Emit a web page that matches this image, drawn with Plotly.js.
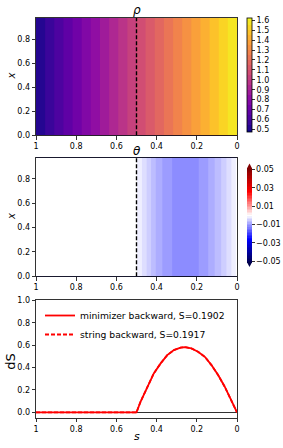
<!DOCTYPE html>
<html>
<head>
<meta charset="utf-8">
<script src="https://cdn.plot.ly/plotly-3.0.1.min.js"></script>
<style>html,body{margin:0;padding:0;background:#fff;}#chart{width:283px;height:448px;}</style>
</head>
<body>
<div id="chart"></div>
<script>
// ---- data ----
var xGrid = [0.0, 0.975];
var sRho = [1.0, 0.9, 0.8, 0.7, 0.6, 0.5, 0.4, 0.3, 0.2, 0.1, 0.0];
var rho = [0.5, 0.61, 0.72, 0.83, 0.94, 1.05, 1.16, 1.27, 1.38, 1.49, 1.6];

var sTheta = [1.0, 0.75, 0.5, 0.497, 0.473, 0.449, 0.428, 0.404, 0.371, 0.324, 0.29, 0.256, 0.22, 0.189, 0.144, 0.111, 0.078, 0.053, 0.028, 0.0065, 0.0];
var theta = [0, 0, 0, -0.0009, -0.0025, -0.0042, -0.0058, -0.0075, -0.0092, -0.0108, -0.0116, -0.0119, -0.0116, -0.0108, -0.0092, -0.0075, -0.0058, -0.0042, -0.0025, -0.0009, 0];

var sDS = [1.0, 0.5, 0.48, 0.447, 0.414, 0.38, 0.347, 0.314, 0.281, 0.26, 0.227, 0.194, 0.16, 0.127, 0.094, 0.061, 0.028, 0.0];
var dsMinimizer = [0, 0, 0.095, 0.229, 0.348, 0.437, 0.511, 0.556, 0.578, 0.582, 0.571, 0.541, 0.496, 0.422, 0.333, 0.229, 0.110, 0];
var dsString = [0, 0, 0.095, 0.229, 0.348, 0.437, 0.511, 0.556, 0.578, 0.582, 0.571, 0.541, 0.496, 0.422, 0.333, 0.229, 0.110, 0];

var sTicks = [1, 0.8, 0.6, 0.4, 0.2, 0];
var sTickText = ['1', '0.8', '0.6', '0.4', '0.2', '0'];
var xTicks = [0, 0.2, 0.4, 0.6, 0.8];
var rhoTicks = [0.5, 0.6, 0.7, 0.8, 0.9, 1.0, 1.1, 1.2, 1.3, 1.4, 1.5, 1.6];
var thetaTicks = [-0.05, -0.03, -0.01, 0.01, 0.03, 0.05];
var dsTicks = [0, 0.2, 0.4, 0.6, 0.8, 1.0];
var switchS = 0.5;
var legendNames = ['minimizer backward, S=0.1902', 'string backward, S=0.1917'];

// ---- helpers ----
var W = 283, H = 448, ML = 36, MR = 46, MT = 18, MB = 30;
var PW = W - ML - MR, PH = H - MT - MB;
function X(px) { return (px - ML) / PW; }
function Y(py) { return (H - MB - py) / PH; }

var plasma = [[0.0,'#0d0887'],[0.1,'#41049d'],[0.2,'#6a00a8'],[0.3,'#8f0da4'],[0.4,'#b12a90'],[0.5,'#cc4778'],[0.6,'#e16462'],[0.7,'#f2844b'],[0.8,'#fca636'],[0.9,'#fcce25'],[1.0,'#f0f921']];
var seismic = [[0,'rgb(0,0,76)'],[0.25,'rgb(0,0,255)'],[0.5,'rgb(255,255,255)'],[0.75,'rgb(255,0,0)'],[1,'rgb(128,0,0)']];

var FONT = 'DejaVu Sans';
var tickFont = {family: FONT, size: 8, color: '#000'};

function rows(row) { return xGrid.map(function () { return row; }); }
var thetaLevel = 0.1 / 60;
var CBX = 247;

var traces = [
  {
    type: 'contour', x: sRho, y: xGrid, z: rows(rho), xaxis: 'x', yaxis: 'y',
    colorscale: plasma,
    contours: {start: 0.5, end: 1.6, size: 0.05, coloring: 'fill', showlines: false},
    line: {width: 0}, hoverinfo: 'skip', showlegend: false,
    colorbar: {
      x: X(CBX), xanchor: 'left', xpad: 0, thickness: 5,
      lenmode: 'pixels', len: 114.3, y: Y(74.85), yanchor: 'middle', ypad: 0,
      outlinewidth: 0.8, outlinecolor: '#000',
      tickmode: 'array', tickvals: rhoTicks, tickformat: '.1f',
      ticks: 'outside', ticklen: 3, tickwidth: 0.8, tickcolor: '#000',
      tickfont: tickFont
    }
  },
  {
    type: 'scatter', mode: 'lines', x: [switchS, switchS], y: xGrid, xaxis: 'x', yaxis: 'y',
    line: {color: '#000', width: 1.4, dash: '4px,2px'}, showlegend: false, hoverinfo: 'skip'
  },
  {
    type: 'contour', x: sTheta, y: xGrid, z: rows(theta), xaxis: 'x2', yaxis: 'y2',
    colorscale: seismic,
    contours: {start: -0.05 - thetaLevel / 2, end: 0.05 + thetaLevel / 2, size: thetaLevel, coloring: 'fill', showlines: false},
    line: {width: 0}, hoverinfo: 'skip', showlegend: false,
    colorbar: {
      x: X(CBX), xanchor: 'left', xpad: 0, thickness: 5,
      lenmode: 'pixels', len: 95, y: Y(215.3), yanchor: 'middle', ypad: 0,
      outlinewidth: 0,
      tickmode: 'array', tickvals: thetaTicks, tickformat: '.2f',
      ticks: 'outside', ticklen: 3, tickwidth: 0.8, tickcolor: '#000',
      tickfont: tickFont
    }
  },
  {
    type: 'scatter', mode: 'lines', x: [switchS, switchS], y: xGrid, xaxis: 'x2', yaxis: 'y2',
    line: {color: '#000', width: 1.4, dash: '4px,2px'}, showlegend: false, hoverinfo: 'skip'
  },
  {
    type: 'scatter', mode: 'lines', x: sDS, y: dsMinimizer, xaxis: 'x3', yaxis: 'y3',
    name: legendNames[0], line: {color: '#ff0000', width: 1.8}
  },
  {
    type: 'scatter', mode: 'lines', x: sDS, y: dsString, xaxis: 'x3', yaxis: 'y3',
    name: legendNames[1], line: {color: '#ff0000', width: 1.8, dash: '4px,2px'}
  }
];

function xax(anchor) {
  return {
    anchor: anchor, domain: [0, 1], range: [1, 0], tickmode: 'array', tickvals: sTicks, ticktext: sTickText,
    showline: true, mirror: true, linecolor: '#000', linewidth: 0.8, showgrid: false, zeroline: false,
    ticks: 'outside', ticklen: 3.5, tickwidth: 0.8, tickcolor: '#000', tickfont: tickFont, automargin: false
  };
}
function yax(anchor, dom, rng, tv) {
  return {
    anchor: anchor, domain: dom, range: rng, tickmode: 'array', tickvals: tv, tickformat: '.1f',
    showline: true, mirror: true, linecolor: '#000', linewidth: 0.8, showgrid: false, zeroline: false,
    ticks: 'outside', ticklen: 3.5, tickwidth: 0.8, tickcolor: '#000', tickfont: tickFont, automargin: false
  };
}

var ann = [];
function addText(txt, px, py, size, angle) {
  ann.push({text: txt, xref: 'paper', yref: 'paper', x: X(px), y: Y(py), xanchor: 'center', yanchor: 'middle',
    showarrow: false, textangle: angle || 0, font: {family: FONT, size: size, color: '#000'}});
}
addText('<i>ρ</i>', 136.7, 10.5, 12);
addText('<i>θ</i>', 136.7, 150.5, 12);
addText('<i>x</i>', 11, 76.5, 10, -90);
addText('<i>x</i>', 11, 217, 10, -90);
addText('dS', 11, 361.7, 13, -90);
addText('<i>s</i>', 136.7, 436, 11);

var cbL = CBX, cbR = CBX + 5, cbM = CBX + 2.5;
var shapes = [
  {type: 'path', xref: 'paper', yref: 'paper', fillcolor: 'rgb(128,0,0)', line: {width: 0},
   path: 'M ' + X(cbL) + ',' + Y(168.3) + ' L ' + X(cbR) + ',' + Y(168.3) + ' L ' + X(cbM) + ',' + Y(163.5) + ' Z'},
  {type: 'path', xref: 'paper', yref: 'paper', fillcolor: 'rgb(0,0,76)', line: {width: 0},
   path: 'M ' + X(cbL) + ',' + Y(262.3) + ' L ' + X(cbR) + ',' + Y(262.3) + ' L ' + X(cbM) + ',' + Y(267) + ' Z'}
];

var y3 = yax('x3', [0, Y(300.3)], [-0.05, 1.0], dsTicks);
y3.zeroline = true; y3.zerolinecolor = '#000'; y3.zerolinewidth = 0.8;

var layout = {
  width: W, height: H, margin: {l: ML, r: MR, t: MT, b: MB, pad: 0, autoexpand: false},
  paper_bgcolor: '#fff', plot_bgcolor: '#fff', font: {family: FONT, size: 8, color: '#000'},
  xaxis: xax('y'), yaxis: yax('x', [Y(135.3), 1], [0, 0.975], xTicks),
  xaxis2: xax('y2'), yaxis2: yax('x2', [Y(276.3), Y(157.7)], [0, 0.975], xTicks),
  xaxis3: xax('y3'), yaxis3: y3,
  showlegend: true,
  legend: {x: X(40), y: Y(301), xanchor: 'left', yanchor: 'top', bgcolor: 'rgba(0,0,0,0)', borderwidth: 0,
           font: {family: FONT, size: 9.2, color: '#000'}, tracegroupgap: 0},
  annotations: ann, shapes: shapes
};

Plotly.newPlot('chart', traces, layout, {displayModeBar: false, staticPlot: true});
</script>
</body>
</html>
